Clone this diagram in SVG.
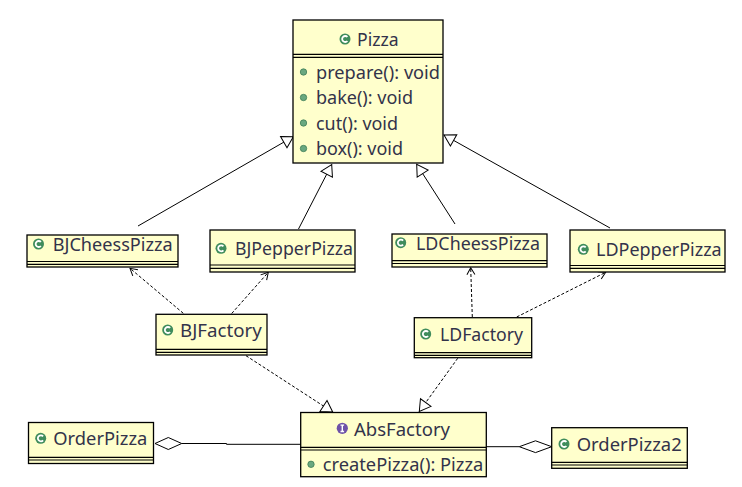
<svg xmlns="http://www.w3.org/2000/svg" width="742" height="487" viewBox="0 0 742 487">
<style>
.box{fill:#FFFFCC;stroke:#000;stroke-width:1.3}
.sep{stroke:#000;stroke-width:1.2;fill:none}
.t{font-family:"Noto Sans","Open Sans","Liberation Sans",sans-serif;font-size:18px;fill:#33334a}
.ci{fill:#3f8c5c}
.cc{fill:none;stroke:#fff;stroke-width:1.8}
.dot{fill:#6aa880;stroke:#3f7d57;stroke-width:0.8}
.solid{stroke:#000;stroke-width:1;fill:none}
.dash{stroke:#000;stroke-width:1;fill:none;stroke-dasharray:3,2}
</style>
<defs>
<marker id="tri" markerUnits="userSpaceOnUse" markerWidth="14" markerHeight="16" refX="11" refY="6.5" orient="auto" overflow="visible">
<path d="M0,0 L11,6.5 L0,13 Z" fill="#fff" stroke="#000" stroke-width="1"/>
</marker>
<marker id="open" markerUnits="userSpaceOnUse" markerWidth="10" markerHeight="10" refX="7" refY="4" orient="auto" overflow="visible">
<path d="M0,0 L7,4 L0,8" fill="none" stroke="#000" stroke-width="1"/>
</marker>
</defs>

<g id="connectors">
<line class="solid" x1="138" y1="226" x2="293.3" y2="136.7" marker-end="url(#tri)"/>
<line class="solid" x1="298.5" y1="229" x2="331.7" y2="164.5" marker-end="url(#tri)"/>
<line class="solid" x1="455" y1="224" x2="416.7" y2="164.3" marker-end="url(#tri)"/>
<line class="solid" x1="610" y1="228" x2="444" y2="135" marker-end="url(#tri)"/>
<line class="dash" x1="183.3" y1="313.3" x2="130" y2="268.3" marker-end="url(#open)"/>
<line class="dash" x1="231.7" y1="313.5" x2="268.3" y2="272.3" marker-end="url(#open)"/>
<line class="dash" x1="472.3" y1="317" x2="470.7" y2="267.7" marker-end="url(#open)"/>
<line class="dash" x1="516.7" y1="317" x2="605.7" y2="272.3" marker-end="url(#open)"/>
<line class="dash" x1="246" y1="355.7" x2="332.7" y2="412" marker-end="url(#tri)"/>
<line class="dash" x1="457.7" y1="358.3" x2="419.3" y2="411.5" marker-end="url(#tri)"/>
<path class="solid" d="M181.7,443.5 H226.5 V444.3 H301"/>
<path d="M155,443.5 L168.3,437.5 L181.7,443.5 L168.3,449.5 Z" fill="#fff" stroke="#000" stroke-width="1"/>
<path class="solid" d="M486,446.7 H519.3"/>
<path d="M519.3,446.7 L535.5,440.8 L551.7,446.7 L535.5,452.6 Z" fill="#fff" stroke="#000" stroke-width="1"/>
</g>

<g id="Pizza">
<rect class="box" x="293" y="20" width="150" height="143"/>
<line class="sep" x1="293" y1="54.3" x2="443" y2="54.3"/>
<line class="sep" x1="293" y1="57.3" x2="443" y2="57.3"/>
<circle class="ci" cx="345" cy="39" r="5.5"/>
<path class="cc" d="M347.4,37 A3,3 0 1 0 347.4,41"/>
<text class="t" x="357" y="45.5" textLength="41.6" lengthAdjust="spacingAndGlyphs">Pizza</text>
<circle class="dot" cx="303.5" cy="72" r="3.2"/>
<text class="t" x="316" y="78.5" textLength="124" lengthAdjust="spacingAndGlyphs">prepare(): void</text>
<circle class="dot" cx="303.5" cy="97.5" r="3.2"/>
<text class="t" x="316" y="104" textLength="97" lengthAdjust="spacingAndGlyphs">bake(): void</text>
<circle class="dot" cx="303.5" cy="123" r="3.2"/>
<text class="t" x="316" y="129.5" textLength="82" lengthAdjust="spacingAndGlyphs">cut(): void</text>
<circle class="dot" cx="303.5" cy="148.5" r="3.2"/>
<text class="t" x="316" y="155" textLength="87" lengthAdjust="spacingAndGlyphs">box(): void</text>
</g>

<g id="BJCheessPizza">
<rect class="box" x="27" y="235" width="151" height="32"/>
<line class="sep" x1="27" y1="261.5" x2="178" y2="261.5"/>
<line class="sep" x1="27" y1="264.3" x2="178" y2="264.3"/>
<circle class="ci" cx="38.5" cy="244" r="5.5"/>
<path class="cc" d="M40.9,242 A3,3 0 1 0 40.9,246"/>
<text class="t" x="52.7" y="251" textLength="120" lengthAdjust="spacingAndGlyphs">BJCheessPizza</text>
</g>

<g id="BJPepperPizza">
<rect class="box" x="210" y="230" width="145" height="42"/>
<line class="sep" x1="210" y1="265" x2="355" y2="265"/>
<line class="sep" x1="210" y1="268.3" x2="355" y2="268.3"/>
<circle class="ci" cx="221" cy="248.3" r="5.5"/>
<path class="cc" d="M223.4,246.3 A3,3 0 1 0 223.4,250.3"/>
<text class="t" x="235" y="255" textLength="118" lengthAdjust="spacingAndGlyphs">BJPepperPizza</text>
</g>

<g id="LDCheessPizza">
<rect class="box" x="392" y="234" width="155" height="33"/>
<line class="sep" x1="392" y1="260.7" x2="547" y2="260.7"/>
<line class="sep" x1="392" y1="263.5" x2="547" y2="263.5"/>
<circle class="ci" cx="400.7" cy="242.7" r="5.5"/>
<path class="cc" d="M403.1,240.7 A3,3 0 1 0 403.1,244.7"/>
<text class="t" x="416" y="249.5" textLength="124" lengthAdjust="spacingAndGlyphs">LDCheessPizza</text>
</g>

<g id="LDPepperPizza">
<rect class="box" x="570" y="230" width="155" height="42"/>
<line class="sep" x1="570" y1="265.5" x2="725" y2="265.5"/>
<line class="sep" x1="570" y1="268.3" x2="725" y2="268.3"/>
<circle class="ci" cx="583.3" cy="249.3" r="5.5"/>
<path class="cc" d="M585.7,247.3 A3,3 0 1 0 585.7,251.3"/>
<text class="t" x="596" y="256" textLength="125.7" lengthAdjust="spacingAndGlyphs">LDPepperPizza</text>
</g>

<g id="BJFactory">
<rect class="box" x="156" y="314.3" width="111" height="40.7"/>
<line class="sep" x1="156" y1="349.3" x2="267" y2="349.3"/>
<line class="sep" x1="156" y1="352.3" x2="267" y2="352.3"/>
<circle class="ci" cx="167.7" cy="330" r="5.5"/>
<path class="cc" d="M170.1,328 A3,3 0 1 0 170.1,332"/>
<text class="t" x="180" y="336.5" textLength="81.7" lengthAdjust="spacingAndGlyphs">BJFactory</text>
</g>

<g id="LDFactory">
<rect class="box" x="414.3" y="317.7" width="117.4" height="40"/>
<line class="sep" x1="414.3" y1="352.7" x2="531.7" y2="352.7"/>
<line class="sep" x1="414.3" y1="355.3" x2="531.7" y2="355.3"/>
<circle class="ci" cx="425.7" cy="334" r="5.5"/>
<path class="cc" d="M428.1,332 A3,3 0 1 0 428.1,336"/>
<text class="t" x="440" y="340.5" textLength="83" lengthAdjust="spacingAndGlyphs">LDFactory</text>
</g>

<g id="AbsFactory">
<rect class="box" x="300.7" y="412.5" width="185.6" height="64.2"/>
<line class="sep" x1="300.7" y1="447.3" x2="486.3" y2="447.3"/>
<line class="sep" x1="300.7" y1="450" x2="486.3" y2="450"/>
<circle cx="342.3" cy="428.3" r="5.6" fill="#6e52a8"/>
<path d="M342.3,425.1 V431.5 M340.5,425.1 H344.1 M340.5,431.5 H344.1" stroke="#fff" stroke-width="1.4" fill="none"/>
<text class="t" x="354" y="435.5" textLength="96" lengthAdjust="spacingAndGlyphs">AbsFactory</text>
<circle class="dot" cx="311" cy="464.3" r="3.2"/>
<text class="t" x="322.7" y="471" textLength="160.6" lengthAdjust="spacingAndGlyphs">createPizza(): Pizza</text>
</g>

<g id="OrderPizza">
<rect class="box" x="28.5" y="422.5" width="125" height="41"/>
<line class="sep" x1="28.5" y1="457.3" x2="153.5" y2="457.3"/>
<line class="sep" x1="28.5" y1="460" x2="153.5" y2="460"/>
<circle class="ci" cx="40.7" cy="438.3" r="5.5"/>
<path class="cc" d="M43.1,436.3 A3,3 0 1 0 43.1,440.3"/>
<text class="t" x="53.3" y="445" textLength="94" lengthAdjust="spacingAndGlyphs">OrderPizza</text>
</g>

<g id="OrderPizza2">
<rect class="box" x="551.7" y="427.7" width="135.6" height="40.6"/>
<line class="sep" x1="551.7" y1="462.3" x2="687.3" y2="462.3"/>
<line class="sep" x1="551.7" y1="465" x2="687.3" y2="465"/>
<circle class="ci" cx="564" cy="444" r="5.5"/>
<path class="cc" d="M566.4,442 A3,3 0 1 0 566.4,446"/>
<text class="t" x="576.7" y="450.8" textLength="105" lengthAdjust="spacingAndGlyphs">OrderPizza2</text>
</g>
</svg>
